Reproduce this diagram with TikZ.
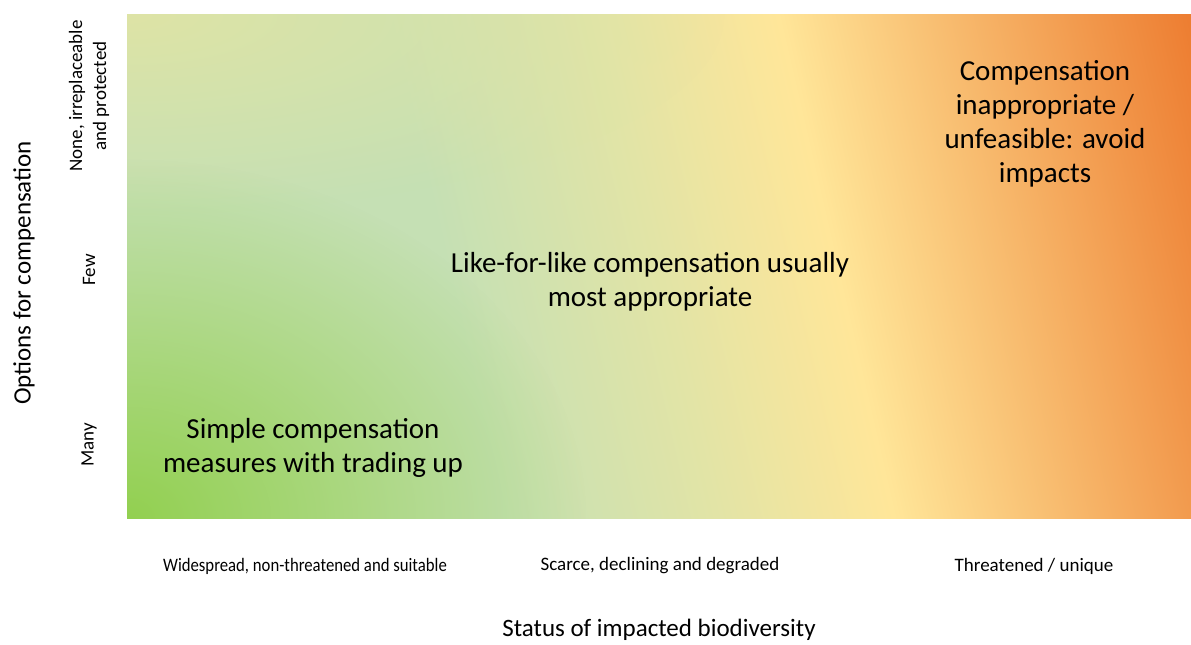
\documentclass[tikz,border=0pt]{standalone}
\usepackage{fontspec}
\setmainfont{Carlito}
\usepackage{graphicx}
\usetikzlibrary{fadings}
\definecolor{bioglow}{RGB}{146,208,80}
\definecolor{biotop}{RGB}{222,228,166}
\definecolor{biopale}{RGB}{197,224,180}
\definecolor{biomid}{RGB}{226,228,166}
\definecolor{bioyellow}{RGB}{255,230,153}
\definecolor{bioorange}{RGB}{237,125,49}
\pgfdeclarehorizontalshading{biogradient}{100bp}{color(0bp)=(biopale); color(25bp)=(biopale); color(41bp)=(biopale); color(50bp)=(biomid); color(57.5bp)=(bioyellow); color(75bp)=(bioorange); color(100bp)=(bioorange)}
\tikzfading[name=glowfade, inner color=transparent!0, outer color=transparent!100]

\begin{document}
\begin{tikzpicture}[
  x=1pt, y=1pt,
  zone/.style={align=center, text=black, font=\fontsize{29}{34}\selectfont},
  axtitle/.style={font=\fontsize{25}{30}\selectfont},
  ytick/.style={rotate=90, align=center, font=\fontsize{19}{24}\selectfont},
  xtick/.style={font=\fontsize{19}{22}\selectfont}
]
\useasboundingbox[fill=white] (0,0) rectangle (1191,645);

% gradient field: tilted linear shading, a green glow bottom left, a pale tint top left
\begin{scope}
  \clip (127,126) rectangle (1191,630);
  \begin{scope}[transform canvas={shift={(659,378)}, rotate=13}]
    \shade[shading=biogradient] (-575,-365) rectangle (575,365);
  \end{scope}
  \fill[biotop, path fading=glowfade] (127,630) ellipse (600 and 200);
  \fill[bioglow, path fading=glowfade] (127,126) ellipse (460 and 360);
\end{scope}

\node[zone] (simple) at (313,197) {Simple compensation\\measures with trading up};
\node[zone] (like) at (650,363) {Like-for-like compensation usually\\most appropriate};
\node[zone] (avoid) at (1045,521) {Compensation\\inappropriate /\\unfeasible: avoid\\impacts};

\node[axtitle, rotate=90] (ytitle) at (24,372) {Options for compensation};
\node[ytick] (none) at (89,549) {None, irreplaceable\\and protected};
\node[ytick] (few) at (89,375) {Few};
\node[ytick] (many) at (89,200) {Many};

\node[xtick] (wide) at (305,79) {\scalebox{0.88}[1]{Widespread, non-threatened and suitable}};
\node[xtick] (scarce) at (660,79) {Scarce, declining and degraded};
\node[xtick] (threat) at (1034,79) {Threatened / unique};
\node[axtitle] (xtitle) at (659,15) {Status of impacted biodiversity};
\end{tikzpicture}
\end{document}
